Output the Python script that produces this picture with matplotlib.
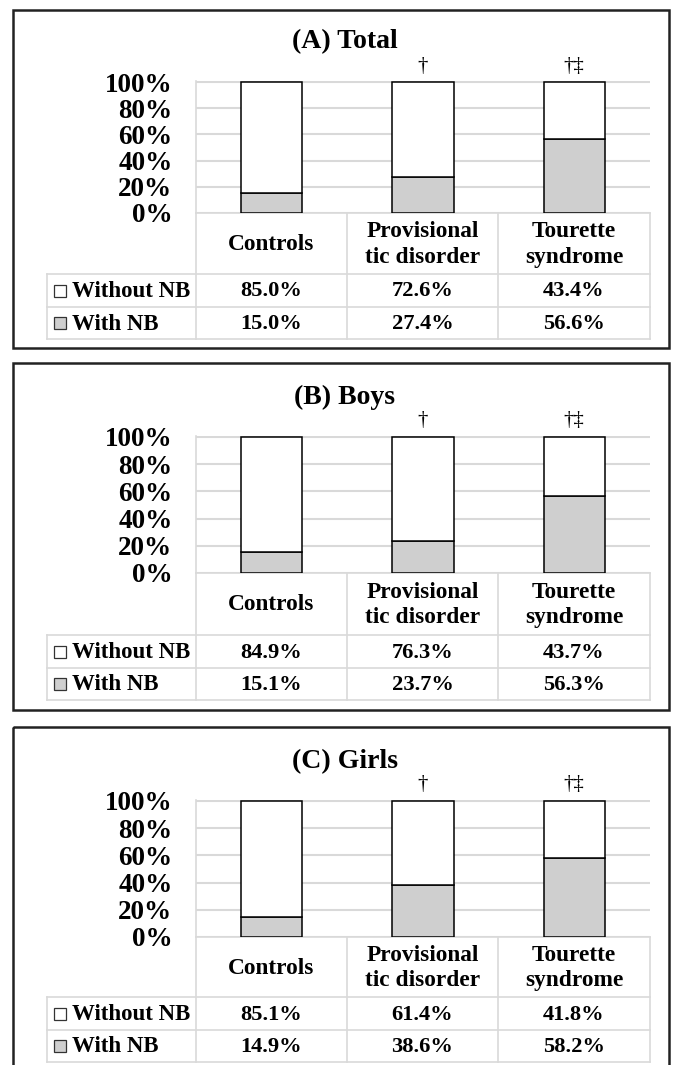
import numpy as np
import matplotlib
matplotlib.use("Agg")
import matplotlib.pyplot as plt
from matplotlib.patches import Rectangle
from matplotlib.ticker import PercentFormatter

# data
categories = ["Controls", "Provisional\ntic disorder", "Tourette\nsyndrome"]
titles = ["(A) Total", "(B) Boys", "(C) Girls"]
markers = ["", "\u2020", "\u2020\u2021"]
without_nb = [[85.0, 72.6, 43.4], [84.9, 76.3, 43.7], [85.1, 61.4, 41.8]]
with_nb = [[15.0, 27.4, 56.6], [15.1, 23.7, 56.3], [14.9, 38.6, 58.2]]
row_labels = ["Without NB", "With NB"]

W, H = 673, 1065
GRAY = "#cfcfcf"
LINE = "#d9d9d9"
FONT = "Liberation Serif"

# pixel layout of each panel (from top of image)
# frame top, frame bottom, title y, marker y, 100% y, 0% y, header bottom, row1 bottom, table bottom
layout = [
    (10, 348, 42, 67, 82, 213, 274, 307, 339),
    (363, 710, 397, 420, 437, 573, 635, 668, 700),
    (727, 1075, 762, 785, 801, 937, 997, 1030, 1062),
]
frame_l, frame_r = 13, 669
tab_l = 47
cols = [196, 347, 498, 650]

fig = plt.figure(figsize=(W / 100, H / 100), dpi=100)
bg = fig.add_axes([0, 0, 1, 1])
bg.set_xlim(0, W)
bg.set_ylim(H, 0)
bg.axis("off")

for p in range(3):
    ft, fb, ty, my, top, zero, hb, r1, tb = layout[p]

    # panel frame
    bg.add_patch(Rectangle((frame_l, ft), frame_r - frame_l, fb - ft,
                           fill=False, edgecolor="#222222", lw=1.8))
    bg.text((frame_l + frame_r) / 2 + 4, ty, titles[p], ha="center", va="center",
            fontsize=20, fontweight="bold", family=FONT)

    # table grid
    for y in [hb, r1, tb]:
        bg.plot([tab_l, cols[-1]], [y, y], color=LINE, lw=1.2)
    bg.plot([cols[0], cols[-1]], [zero, zero], color=LINE, lw=1.2)
    bg.plot([tab_l, tab_l], [hb, tb], color=LINE, lw=1.2)
    for x in cols:
        bg.plot([x, x], [zero, tb], color=LINE, lw=1.2)

    # header and values
    for i, cat in enumerate(categories):
        cx = (cols[i] + cols[i + 1]) / 2
        bg.text(cx, (zero + hb) / 2 + 1, cat, ha="center", va="center",
                fontsize=16.8, fontweight="bold", family=FONT, linespacing=1.3)
        bg.text(cx, (hb + r1) / 2 + 1, f"{without_nb[p][i]:.1f}%", ha="center",
                va="center", fontsize=16.2, fontweight="bold", family=FONT)
        bg.text(cx, (r1 + tb) / 2 + 1, f"{with_nb[p][i]:.1f}%", ha="center",
                va="center", fontsize=16.2, fontweight="bold", family=FONT)
        if markers[i]:
            bg.text(cx, my, markers[i], ha="center", va="center",
                    fontsize=15, family=FONT)

    # legend keys in row header
    for (y0, y1), fc, lab in zip([(hb, r1), (r1, tb)], ["white", GRAY], row_labels):
        cy = (y0 + y1) / 2
        bg.add_patch(Rectangle((54, cy - 6), 12, 12, facecolor=fc,
                               edgecolor="#333333", lw=0.9))
        bg.text(72, cy + 1, lab, ha="left", va="center", fontsize=16.5,
                fontweight="bold", family=FONT)

    # bar axes
    ymax = 101
    ax_top = zero - (zero - top) * ymax / 100
    ax = fig.add_axes([cols[0] / W, 1 - zero / H, (cols[-1] - cols[0]) / W,
                       (zero - ax_top) / H])
    ax.patch.set_alpha(0)
    x = np.arange(len(categories))
    ax.bar(x, with_nb[p], 0.405, color=GRAY, edgecolor="black", lw=1.1, zorder=3)
    ax.bar(x, without_nb[p], 0.405, bottom=with_nb[p], color="white",
           edgecolor="black", lw=1.1, zorder=3)
    ax.set_xlim(-0.5, 2.5)
    ax.set_ylim(0, ymax)
    ax.set_yticks(np.arange(0, 101, 20))
    ax.yaxis.set_major_formatter(PercentFormatter(xmax=100, decimals=0))
    ax.set_xticks([])
    ax.grid(axis="y", color=LINE, lw=1.5)
    ax.set_axisbelow(True)
    for s in ["top", "right", "bottom"]:
        ax.spines[s].set_visible(False)
    ax.spines["left"].set_color(LINE)
    ax.spines["left"].set_linewidth(1.2)
    ax.tick_params(axis="y", length=0, pad=17)
    for lbl in ax.get_yticklabels():
        lbl.set_fontfamily(FONT)
        lbl.set_fontweight("bold")
        lbl.set_fontsize(19.5)

fig.savefig("out.png", dpi=100)
